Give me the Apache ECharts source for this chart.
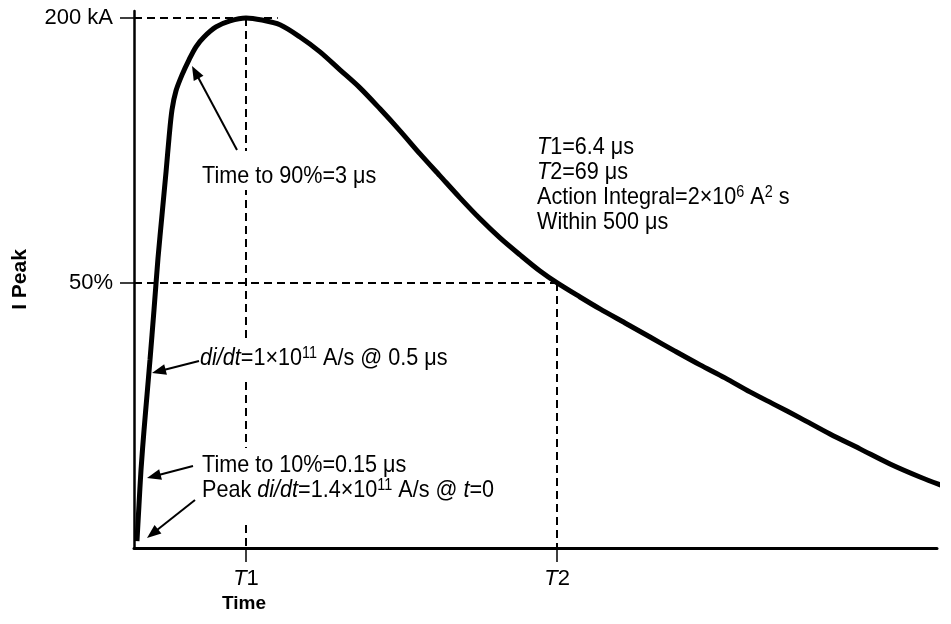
<!DOCTYPE html>
<html><head><meta charset="utf-8">
<script src="https://cdn.jsdelivr.net/npm/echarts@6/dist/echarts.min.js"></script>
<style>html,body{margin:0;padding:0;background:#fff}#chart{width:951px;height:624px}</style>
</head><body><div id="chart"></div>
<script>
// Lightning current waveform: relative time (0-100) vs current in kA
const timeUnits = [0.37,0.62,0.87,1.25,1.62,1.99,2.49,2.99,3.49,3.99,4.36,4.73,5.23,5.98,6.85,7.72,8.72,10.21,11.96,13.95,
  15.94,18.18,20.67,23.16,25.65,28.14,30.63,33.13,35.62,38.11,40.6,43.09,45.58,48.07,50.56,52.7,
  55.54,58.03,61.15,64.26,67.37,70.49,73.6,76.71,79.83,82.94,86.67,90.41,94.15,97.88,101.74];
const currentKA = [2.6,16.2,29.4,44.5,57.7,70.9,89.8,109.4,125.7,141.9,154.7,165.3,172.5,178.5,184.2,189.1,192.8,196.6,198.9,200,
  199.2,197.4,192.8,187.2,180.4,173.6,165.7,157.4,148.7,140.4,132.1,124.2,117.0,110.6,104.5,100,
  94.7,90.2,84.9,79.6,74.3,69.1,64.2,58.9,54.0,49.1,43.0,37.4,31.7,26.8,22.3];

const peakKA = 200;
const halfKA = 100;
const t1 = 13.95;
const t2 = 52.7;
const peakLineEnd = 17.9;

const yTickValues = [halfKA, peakKA];
const yTickLabels = ['50%', '200 kA'];
const xTickValues = [t1, t2];
const xTickLabels = ['{i|T}1', '{i|T}2'];

const FONT = "'Liberation Sans', Arial, sans-serif";
const FS = 24;
const SUP = 16;

const rich = {
  n: { fontFamily: FONT, fontSize: FS, color: '#000', lineHeight: 25 },
  i: { fontFamily: FONT, fontSize: FS, color: '#000', fontStyle: 'italic', lineHeight: 25 },
  s: { fontFamily: FONT, fontSize: SUP, color: '#000', verticalAlign: 'top', lineHeight: 25 }
};

const chart = echarts.init(document.getElementById('chart'), null, { renderer: 'canvas' });

function arrow(x1, y1, x2, y2) {
  const dx = x2 - x1, dy = y2 - y1, len = Math.hypot(dx, dy);
  const ux = dx / len, uy = dy / len;
  const hl = 14, hw = 5.5;
  const bx = x2 - ux * hl, by = y2 - uy * hl;
  return [
    { type: 'line', z: 20, shape: { x1: x1, y1: y1, x2: bx + ux * 2, y2: by + uy * 2 }, style: { stroke: '#000', lineWidth: 2 } },
    { type: 'polygon', z: 20, shape: { points: [[x2, y2], [bx - uy * hw, by + ux * hw], [bx + uy * hw, by - ux * hw]] }, style: { fill: '#000' } }
  ];
}

// condensed annotation text: wide face squeezed horizontally
function label(x, y, text) {
  return {
    type: 'text', x: x, y: y, z: 15, scaleX: 0.9,
    style: {
      text: text, rich: rich, font: FS + 'px ' + FONT, fill: '#000',
      align: 'left', verticalAlign: 'middle'
    }
  };
}

// white breaks in the T1 guide line where the notes cross it
function gap(x, y1, y2) {
  return { type: 'rect', z: 10, shape: { x: x - 4, y: y1, width: 8, height: y2 - y1 }, style: { fill: '#fff' } };
}

const dashed = { color: '#000', width: 2, type: [8, 5] };

chart.setOption({
  animation: false,
  backgroundColor: '#fff',
  grid: { left: 134, right: 14, top: 11, bottom: 76, containLabel: false },
  xAxis: {
    type: 'value', min: 0, max: 100,
    axisLine: { lineStyle: { color: '#000', width: 3 } },
    splitLine: { show: false },
    axisTick: { customValues: xTickValues, length: 14, lineStyle: { color: '#000', width: 1.5 } },
    axisLabel: {
      customValues: xTickValues, margin: 20,
      formatter: v => xTickLabels[xTickValues.indexOf(v)],
      rich: { i: { fontFamily: FONT, fontSize: 22, fontStyle: 'italic', color: '#000' } },
      fontFamily: FONT, fontSize: 22, color: '#000'
    }
  },
  yAxis: {
    type: 'value', min: 0, max: 202.6,
    name: 'I Peak', nameLocation: 'middle', nameGap: 103,
    nameTextStyle: { fontFamily: FONT, fontWeight: 'bold', fontSize: 21, color: '#000' },
    axisLine: { show: true, lineStyle: { color: '#000', width: 2.5 } },
    splitLine: { show: false },
    axisTick: { show: true, customValues: yTickValues, length: 14, lineStyle: { color: '#000', width: 1.5 } },
    axisLabel: {
      customValues: yTickValues, margin: 21,
      formatter: v => yTickLabels[yTickValues.indexOf(v)],
      fontFamily: FONT, fontSize: 22, color: '#000'
    }
  },
  series: [{
    type: 'line',
    data: timeUnits.map((t, i) => [t, currentKA[i]]),
    smooth: 0.3,
    showSymbol: false,
    clip: false,
    lineStyle: { color: '#000', width: 5 },
    z: 5,
    markLine: {
      silent: true, symbol: ['none', 'none'], label: { show: false },
      lineStyle: dashed,
      data: [
        [{ coord: [0, peakKA] }, { coord: [peakLineEnd, peakKA] }],
        [{ coord: [t1, peakKA] }, { coord: [t1, 0] }],
        [{ coord: [0, halfKA] }, { coord: [t2, halfKA] }],
        [{ coord: [t2, halfKA] }, { coord: [t2, 0] }]
      ]
    }
  }],
  graphic: [
    gap(246, 151, 190),
    gap(246, 342, 380),
    gap(246, 448, 525),
    label(202, 176, '{n|Time to 90%=3 μs}'),
    label(200, 358, '{i|di/dt}{n|=1×10}{s|11}{n| A/s @ 0.5 μs}'),
    label(202, 465, '{n|Time to 10%=0.15 μs}'),
    label(202, 490, '{n|Peak }{i|di/dt}{n|=1.4×10}{s|11}{n| A/s @ }{i|t}{n|=0}'),
    label(537, 185, '{i|T}{n|1=6.4 μs}\n{i|T}{n|2=69 μs}\n{n|Action Integral=2×10}{s|6}{n| A}{s|2}{n| s}\n{n|Within 500 μs}'),
    {
      type: 'text', x: 244, y: 604, z: 15,
      style: { text: 'Time', font: 'bold 19px ' + FONT, fill: '#000', align: 'center', verticalAlign: 'middle' }
    }
  ].concat(
    arrow(237, 150, 192, 66),
    arrow(199, 361, 152, 373),
    arrow(193, 466, 147, 478),
    arrow(195, 500, 147, 538)
  )
});
</script>
</body></html>
